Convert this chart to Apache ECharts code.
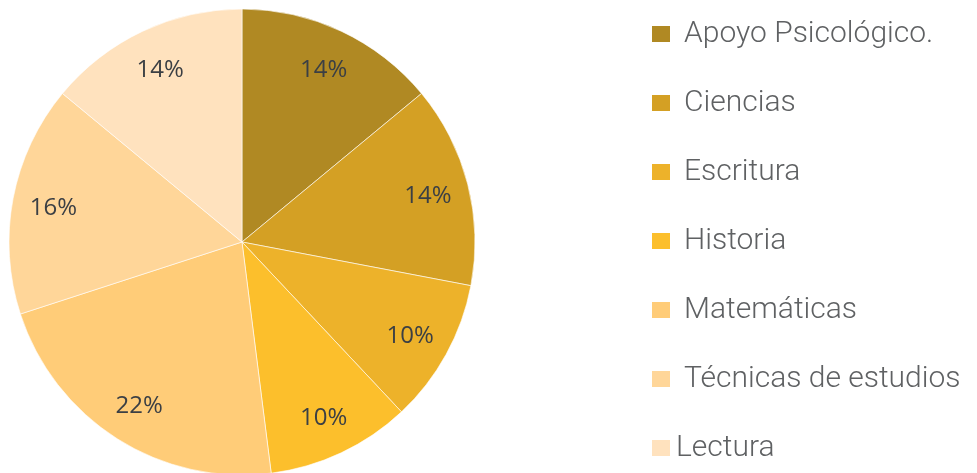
<!DOCTYPE html>
<html>
<head>
    <meta charset="utf-8" />
    <script src="https://cdn.jsdelivr.net/npm/echarts@6/dist/echarts.min.js"></script>
    <style>
        html, body { margin: 0; padding: 0; background: #fff; }
    </style>
</head>
<body>
    <div id="main" style="width:977px;height:473px;"></div>
    <script>
        var categories = ['Apoyo Psicológico.', 'Ciencias', 'Escritura', 'Historia', 'Matemáticas', 'Técnicas de estudios', 'Lectura'];
        var values = [14, 14, 10, 10, 22, 16, 14];
        var colors = ['#B08923', '#D4A024', '#EDB22A', '#FCBF2C', '#FFCC78', '#FFD699', '#FFE2BE'];

        var pieData = categories.map(function (name, i) {
            return { name: name, value: values[i], itemStyle: { color: colors[i] } };
        });
        // label-only ring so the percentages sit out near the rim
        var labelData = categories.map(function (name, i) {
            return { name: name, value: values[i] };
        });

        var myChart = echarts.init(document.getElementById('main'));

        var option = {
            animation: false,
            legend: {
                orient: 'vertical',
                left: 645,
                top: 14,
                itemWidth: 20,
                itemHeight: 18,
                itemGap: 39,
                icon: 'rect',
                data: categories.map(function (name, i) {
                    var item = { name: name, itemStyle: { color: colors[i] } };
                    // the last entry sits closer to its swatch in the original
                    if (name === 'Lectura') item.textStyle = { padding: [0, 0, 0, 0] };
                    return item;
                }),
                textStyle: {
                    fontFamily: 'Roboto',
                    fontWeight: 300,
                    fontSize: 30,
                    lineHeight: 30,
                    color: '#5f6163',
                    padding: [0, 0, 0, 8]
                }
            },
            series: [
                {
                    name: 'pie',
                    type: 'pie',
                    center: [242, 242],
                    radius: [0, 233],
                    startAngle: 90,
                    clockwise: true,
                    label: { show: false },
                    labelLine: { show: false },
                    itemStyle: { borderColor: '#ffffff', borderWidth: 0.6 },
                    emphasis: { disabled: true },
                    data: pieData
                },
                {
                    name: 'labels',
                    type: 'pie',
                    center: [242, 244],
                    radius: [145, 233],
                    startAngle: 90,
                    clockwise: true,
                    silent: true,
                    itemStyle: { color: 'rgba(0,0,0,0)' },
                    label: {
                        show: true,
                        position: 'inside',
                        formatter: '{c}%',
                        fontFamily: 'Open Sans',
                        fontSize: 24,
                        color: '#3B3F44'
                    },
                    labelLine: { show: false },
                    emphasis: { disabled: true },
                    data: labelData
                }
            ]
        };

        myChart.setOption(option);
    </script>
</body>
</html>
